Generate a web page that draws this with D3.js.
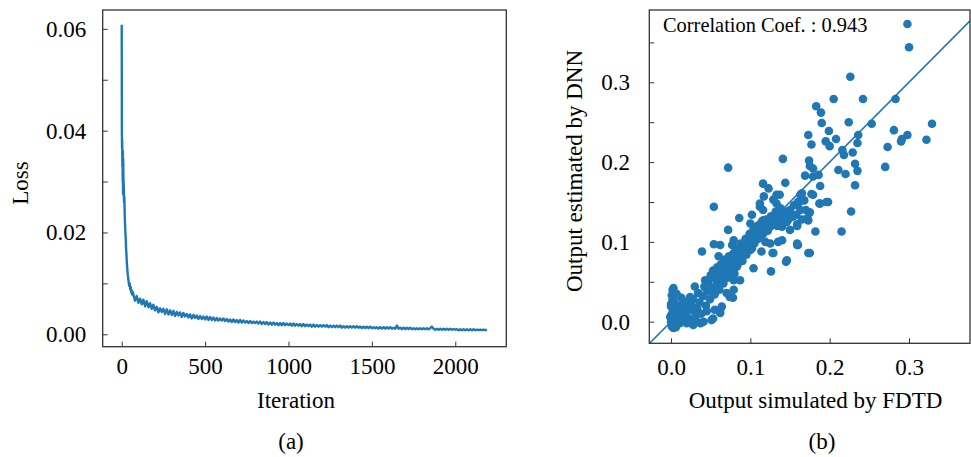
<!DOCTYPE html>
<html><head><meta charset="utf-8">
<script src="https://cdn.jsdelivr.net/npm/d3@7"></script>
<style>body{margin:0;background:#fff}svg{display:block}</style>
</head><body>
<svg id="chart" width="971" height="457"></svg>
<script>
// ---------- DATA ----------
// (a) training loss, values in units of 1e-3
const lossIterHead = [0,1,2,3,4,5,6,7,8,9,10,12,14,16,18,20,22,24,26,28,30,33,36,39,42,45,48,51,54,57,60,63,66];
const lossHead = [60.8,40.0,36.5,38.0,33.0,35.5,30.0,36.0,27.5,34.5,31.0,29.0,26.0,27.0,23.5,21.5,20.0,19.0,17.0,16.0,14.5,13.0,11.8,11.0,10.2,9.5,10.0,8.8,9.3,8.2,8.6,7.8,8.3];
// iterations 70 .. 2190, every 10
const lossTail = [
 7.8,6.6,7.5,6.2,7.0,5.9,6.8,5.5,6.5,5.3,6.1,5.0,5.8,4.7,
 5.4,4.3,5.1,4.4,5.0,4.0,4.9,3.9,4.7,3.8,4.6,3.6,4.4,3.7,4.3,3.4,4.2,3.5,4.0,3.3,
 3.9,3.1,3.8,3.2,3.7,3.0,3.6,3.0,3.5,2.9,3.5,2.8,3.4,2.8,3.3,2.7,3.2,2.7,3.1,2.7,
 3.1,2.6,3.0,2.5,2.9,2.4,2.9,2.4,2.8,2.3,2.8,2.3,2.7,2.3,2.6,2.2,2.6,2.2,2.5,2.2,
 2.5,2.1,2.5,2.0,2.4,2.0,2.4,1.9,2.3,1.9,2.3,1.9,2.2,1.8,2.2,1.8,2.2,1.8,2.1,1.8,
 2.1,1.7,2.1,1.7,2.0,1.7,2.0,1.6,2.0,1.6,1.9,1.6,1.9,1.5,1.9,1.5,1.8,1.5,1.8,1.5,
 1.8,1.5,1.8,1.4,1.7,1.4,1.7,1.4,1.7,1.4,1.7,1.3,1.6,1.3,1.6,1.3,1.6,1.3,1.6,1.3,
 1.6,1.3,1.5,1.2,1.5,1.2,1.5,1.2,1.5,1.2,1.4,1.2,1.4,1.1,1.4,1.1,1.4,1.1,1.4,1.1,
 1.4,1.1,1.3,1.1,1.7,1.1,1.3,1.0,1.3,1.0,1.3,1.0,1.3,1.0,1.2,1.0,1.2,1.0,1.2,1.0,
 1.2,1.0,1.2,1.0,1.2,1.5,1.1,0.9,1.1,0.9,1.1,0.9,1.1,0.9,1.1,0.9,1.1,0.9,1.0,0.9,
 1.0,0.8,1.0,0.8,1.0,0.8,1.0,0.8,1.0,0.8,1.0,0.8,0.9,0.8,0.9,0.8,0.9,0.8,0.9];
const lossTailStart = 70, lossTailStep = 10;
const iterTicks = [0,500,1000,1500,2000];
const lossTicks = [0,0.01,0.02,0.03,0.04,0.05,0.06];

// (b) scatter: [simulated by FDTD, estimated by DNN]
const scatterPoints = [
 [0.298,0.373],[0.300,0.344],[0.226,0.307],[0.205,0.279],[0.242,0.279],[0.283,0.279],[0.183,0.270],[0.189,0.262],[0.190,0.249],[0.224,0.250],
 [0.253,0.248],[0.329,0.248],[0.173,0.234],[0.199,0.239],[0.281,0.240],[0.298,0.234],[0.236,0.234],[0.195,0.226],[0.208,0.229],[0.177,0.222],
 [0.200,0.220],[0.235,0.224],[0.290,0.226],[0.291,0.229],[0.322,0.228],[0.273,0.219],[0.216,0.215],[0.218,0.209],[0.229,0.212],[0.141,0.204],
 [0.174,0.202],[0.232,0.198],[0.270,0.194],[0.072,0.193],[0.175,0.195],[0.179,0.192],[0.211,0.190],[0.235,0.189],[0.220,0.185],[0.169,0.183],
 [0.186,0.184],[0.144,0.174],[0.232,0.171],[0.188,0.170],[0.179,0.182],[0.179,0.159],[0.165,0.161],[0.162,0.150],[0.187,0.148],[0.198,0.150],
 [0.227,0.138],[0.175,0.137],[0.173,0.127],[0.159,0.122],[0.146,0.125],[0.154,0.132],[0.133,0.159],[0.116,0.173],[0.123,0.167],[0.129,0.153],
 [0.112,0.144],[0.137,0.136],[0.125,0.130],[0.182,0.113],[0.215,0.113],[0.160,0.096],[0.175,0.086],[0.140,0.102],[0.129,0.086],[0.119,0.100],
 [0.146,0.077],
 [0.054,0.144],[0.117,0.157],[0.137,0.159],[0.112,0.148],[0.102,0.134],[0.116,0.140],[0.133,0.148],[0.163,0.159],[0.177,0.160],[0.188,0.148],
 [0.196,0.150],[0.172,0.130],[0.159,0.120],[0.147,0.132],[0.140,0.119],[0.150,0.115],[0.125,0.119],[0.100,0.123],[0.086,0.130],[0.072,0.115],
 [0.079,0.102],[0.095,0.102],[0.112,0.107],[0.102,0.092],[0.114,0.088],[0.125,0.098],[0.135,0.100],[0.159,0.096],[0.173,0.086],[0.128,0.086],
 [0.145,0.075],[0.126,0.063],[0.039,0.088],[0.054,0.097],[0.062,0.096],[0.085,0.090],
 [0.002,0.040],[0.001,0.033],[0.000,0.019],[-0.001,0.006],[0.001,-0.006],[0.003,-0.008],[0.011,0.002],[0.016,0.011],[0.020,0.015],[0.013,0.021],
 [0.024,0.031],[0.030,0.044],[0.043,0.052],[0.060,0.082],[0.077,0.096],[0.037,-0.002],[0.041,0.000],[0.028,-0.004],[0.020,-0.002],[0.051,0.002],
 [0.062,0.011],[0.064,0.019],[0.055,0.015],[0.045,0.013],[0.032,0.011],[0.074,0.031],[0.079,0.040],[0.087,0.052],[0.083,0.069],[0.104,0.067],
 [0.159,0.098],[0.100,0.094],[0.112,0.115],[0.116,0.127],[0.135,0.136],
 [0.020,0.004],[0.053,0.004],[0.062,0.015],[0.030,0.013],[0.016,0.023],[0.007,0.035],[0.003,0.042],[0.078,0.030],[0.070,0.036],[0.079,0.052],
 [0.000,0.000],[0.002,0.005],[0.001,0.010],[0.003,0.015],[0.000,0.022],[0.002,0.028],[0.004,0.002],[0.005,-0.004],[0.006,0.008],[0.008,0.012],
 [0.007,0.020],[0.009,0.003],[0.010,0.007],[0.012,0.016],[0.004,0.025],[0.001,-0.003],[0.006,-0.007],[0.011,-0.002],[0.014,0.004],[0.015,0.020],
 [0.017,0.009],[0.019,0.025],[0.013,0.030],[0.022,0.014],[0.024,0.004],[0.026,0.020],[0.028,0.028],[0.031,0.003],[0.033,0.017],[0.034,0.036],
 [0.036,0.024],[0.038,0.010],[0.040,0.032],[0.042,0.044],[0.044,0.020],[0.046,0.038],[0.047,0.050],[0.049,0.028],[0.050,0.058],[0.052,0.042],
 [0.053,0.064],[0.055,0.034],[0.056,0.054],[0.057,0.046],[0.058,0.068],[0.060,0.060],[0.061,0.040],[0.062,0.052],[0.063,0.072],[0.065,0.064],
 [0.066,0.048],[0.067,0.058],[0.068,0.078],[0.070,0.068],[0.071,0.055],[0.072,0.062],[0.073,0.082],[0.075,0.074],[0.076,0.066],[0.078,0.070],
 [0.079,0.086],[0.080,0.060],[0.082,0.078],[0.083,0.092],[0.084,0.072],[0.086,0.082],[0.088,0.098],[0.089,0.085],[0.090,0.076],[0.092,0.090],
 [0.094,0.104],[0.095,0.084],[0.097,0.096],[0.099,0.110],[0.100,0.090],[0.102,0.102],[0.104,0.116],[0.105,0.098],[0.107,0.108],[0.109,0.120],
 [0.110,0.104],[0.112,0.112],[0.114,0.125],[0.116,0.110],[0.118,0.118],[0.120,0.128],[0.122,0.114],[0.124,0.124],[0.126,0.132],[0.128,0.122],
 [0.130,0.128],[0.132,0.138],[0.134,0.120],[0.136,0.128],[0.138,0.142],[0.140,0.130],[0.142,0.124],[0.145,0.138],[0.148,0.128],[0.150,0.140],
 [0.153,0.132],[0.155,0.146],[0.158,0.134],[0.160,0.150],[0.163,0.140],[0.165,0.128],[0.168,0.152],[0.170,0.140]
];
const fdtdTicks = [0,0.1,0.2,0.3];
const dnnTicks = [0,0.05,0.1,0.15,0.2,0.25,0.3,0.35];
const corrText = "Correlation Coef. : 0.943";

// ---------- DRAW ----------
const FONT = "'Liberation Serif','Times New Roman',serif";
const BLUE = "#1f77b4";
const svg = d3.select("#chart");
svg.append("rect").attr("width",971).attr("height",457).attr("fill","#fff");

function styleAxis(g){
  g.select(".domain").remove();
  g.selectAll(".tick line").attr("stroke","#333").attr("stroke-width",1);
  g.selectAll("text").attr("font-family",FONT).attr("font-size",23).attr("fill","#000");
}

// ---- (a) ----
const A = {l:102.7, r:506.3, t:10, b:346.7};
const xL = d3.scaleLinear().domain([-114, 2306]).range([A.l, A.r]);
const yL = d3.scaleLinear().domain([-0.00244, 0.0637]).range([A.b, A.t]);
const lossData = lossIterHead.map((it,i)=>[it, lossHead[i]/1000])
  .concat(lossTail.map((v,i)=>[lossTailStart + i*lossTailStep, v/1000]));

const gA = svg.append("g");
gA.append("defs").append("clipPath").attr("id","clipA").append("rect")
  .attr("x",A.l).attr("y",A.t).attr("width",A.r-A.l).attr("height",A.b-A.t);
gA.append("path").datum(lossData)
  .attr("clip-path","url(#clipA)")
  .attr("fill","none").attr("stroke",BLUE).attr("stroke-width",2.4)
  .attr("stroke-linejoin","round")
  .attr("d", d3.line().x(d=>xL(d[0])).y(d=>yL(d[1])));

gA.append("g").attr("transform",`translate(0,${A.b})`)
  .call(d3.axisBottom(xL).tickValues(iterTicks).tickSize(-5).tickSizeOuter(0).tickPadding(10.8)
    .tickFormat(d3.format("d")))
  .call(styleAxis);
gA.append("g").attr("transform",`translate(${A.l},0)`)
  .call(d3.axisLeft(yL).tickValues(lossTicks).tickSize(-5).tickSizeOuter(0).tickPadding(16.5)
    .tickFormat(d => Math.round(d*100)%2===0 ? d3.format(".2f")(d) : ""))
  .call(styleAxis);
gA.append("rect").attr("x",A.l).attr("y",A.t).attr("width",A.r-A.l).attr("height",A.b-A.t)
  .attr("fill","none").attr("stroke","#333").attr("stroke-width",1.3);

gA.append("text").attr("x",296).attr("y",407.5).attr("text-anchor","middle")
  .attr("font-family",FONT).attr("font-size",23).text("Iteration");
gA.append("text").attr("transform","translate(28,183) rotate(-90)").attr("text-anchor","middle")
  .attr("font-family",FONT).attr("font-size",23).text("Loss");
gA.append("text").attr("x",291).attr("y",448.5).attr("text-anchor","middle")
  .attr("font-family",FONT).attr("font-size",23).text("(a)");

// ---- (b) ----
const B = {l:649.3, r:970, t:10, b:343.3};
const xR = d3.scaleLinear().domain([-0.0274, 0.3769]).range([B.l, B.r]);
const yR = d3.scaleLinear().domain([-0.0271, 0.3906]).range([B.b, B.t]);
const gB = svg.append("g");
gB.append("defs").append("clipPath").attr("id","clipB").append("rect")
  .attr("x",B.l).attr("y",B.t).attr("width",B.r-B.l).attr("height",B.b-B.t);
const plotB = gB.append("g").attr("clip-path","url(#clipB)");
plotB.selectAll("circle").data(scatterPoints).join("circle")
  .attr("cx",d=>xR(d[0])).attr("cy",d=>yR(d[1])).attr("r",4.3).attr("fill",BLUE);
const diag = [xR.domain()[0], xR.domain()[1]];
plotB.append("line")
  .attr("x1",xR(diag[0])).attr("y1",yR(diag[0]))
  .attr("x2",xR(diag[1])).attr("y2",yR(diag[1]))
  .attr("stroke",BLUE).attr("stroke-width",1.6);

gB.append("g").attr("transform",`translate(0,${B.b})`)
  .call(d3.axisBottom(xR).tickValues(fdtdTicks).tickSize(-5).tickSizeOuter(0).tickPadding(15.2)
    .tickFormat(d3.format(".1f")))
  .call(styleAxis);
gB.append("g").attr("transform",`translate(${B.l},0)`)
  .call(d3.axisLeft(yR).tickValues(dnnTicks).tickSize(-5).tickSizeOuter(0).tickPadding(19.3)
    .tickFormat(d => Math.round(d*100)%10===0 ? d3.format(".1f")(d) : ""))
  .call(styleAxis);
gB.append("rect").attr("x",B.l).attr("y",B.t).attr("width",B.r-B.l).attr("height",B.b-B.t)
  .attr("fill","none").attr("stroke","#333").attr("stroke-width",1.3);

gB.append("text").attr("x",663).attr("y",32.3)
  .attr("font-family",FONT).attr("font-size",20.4).text(corrText);
gB.append("text").attr("x",815.5).attr("y",407.5).attr("text-anchor","middle")
  .attr("font-family",FONT).attr("font-size",23).text("Output simulated by FDTD");
gB.append("text").attr("transform","translate(582,171) rotate(-90)").attr("text-anchor","middle")
  .attr("font-family",FONT).attr("font-size",23).text("Output estimated by DNN");
gB.append("text").attr("x",822).attr("y",448.5).attr("text-anchor","middle")
  .attr("font-family",FONT).attr("font-size",23).text("(b)");
</script>
</body></html>
